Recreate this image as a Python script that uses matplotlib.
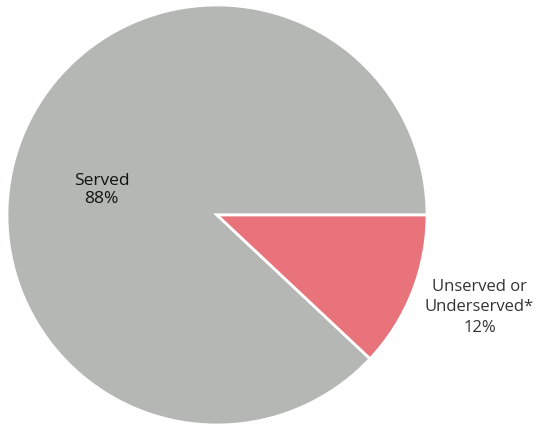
import matplotlib.pyplot as plt

# Share of population served
categories = ['Served', 'Unserved or\nUnderserved*']
shares = [88, 12]
colors = ['#b5b7b5', '#e8737a']

fig = plt.figure(figsize=(5.39, 4.24), dpi=100)
# pie centre at about (217, 215) px with radius 210 px
cx, cy, r = 217, 215, 210
W, H = 539, 424
ax = fig.add_axes([(cx - r) / W, (H - cy - r) / H, 2 * r / W, 2 * r / H])

ax.pie(shares, colors=colors, startangle=0, counterclock=True, radius=1,
       wedgeprops=dict(edgecolor='white', linewidth=2))
ax.set_xlim(-1, 1)
ax.set_ylim(-1, 1)
ax.set_aspect('auto')

ax.text(-0.55, 0.12, f'{categories[0]}\n{shares[0]}%', ha='center', va='center',
        fontsize=12.5, color='#111111', family='Open Sans', linespacing=1.15)
ax.text(1.25, -0.44, f'{categories[1]}\n{shares[1]}%', ha='center', va='center',
        fontsize=12, color='#333333', family='Open Sans', linespacing=1.4)

fig.savefig('out.png', dpi=100)
